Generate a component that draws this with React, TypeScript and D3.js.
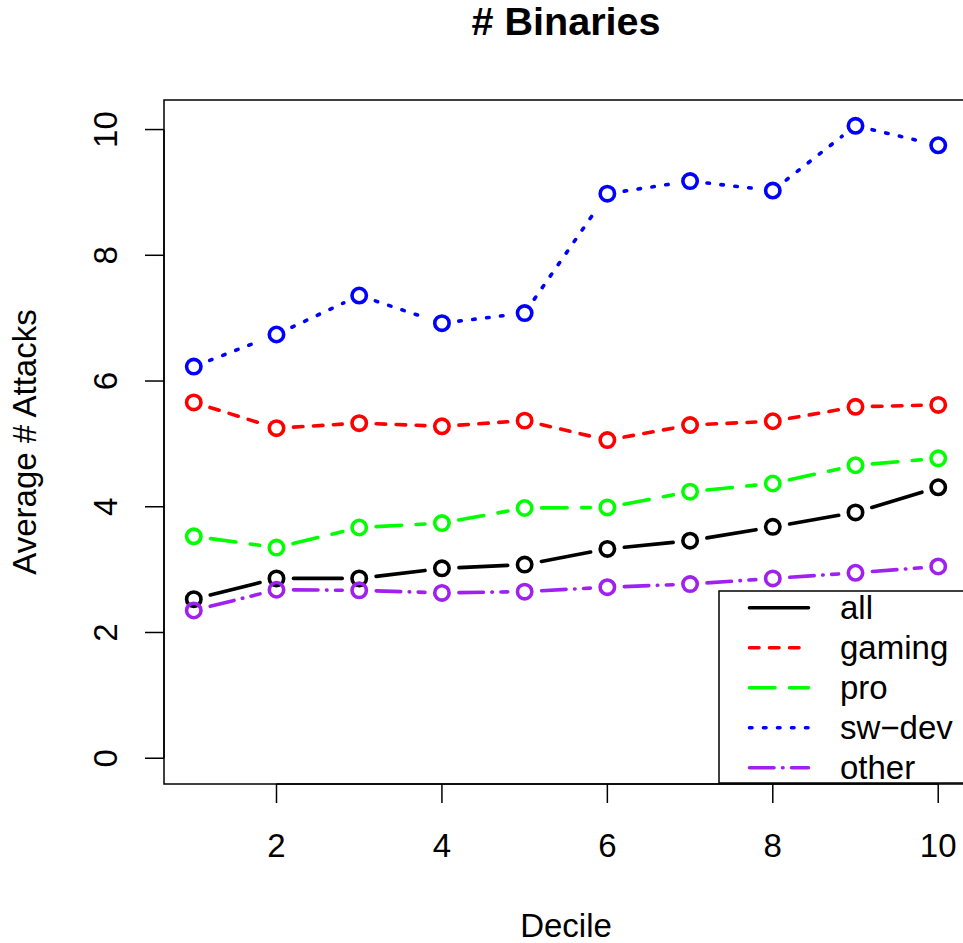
import React from "react";
import * as d3 from "d3";

const deciles = [1, 2, 3, 4, 5, 6, 7, 8, 9, 10];
const allVals = [2.53, 2.86, 2.86, 3.02, 3.08, 3.33, 3.46, 3.68, 3.91, 4.31];
const gamingVals = [5.66, 5.25, 5.33, 5.28, 5.37, 5.06, 5.30, 5.36, 5.59, 5.62];
const proVals = [3.53, 3.35, 3.67, 3.74, 3.98, 3.99, 4.24, 4.37, 4.66, 4.77];
const swdevVals = [6.23, 6.74, 7.36, 6.92, 7.08, 8.98, 9.18, 9.03, 10.06, 9.75];
const otherVals = [2.35, 2.68, 2.67, 2.63, 2.65, 2.72, 2.77, 2.86, 2.95, 3.05];
const seriesNames = ["all", "gaming", "pro", "sw\u2212dev", "other"];
const xTicks = [2, 4, 6, 8, 10];
const yTicks = [0, 2, 4, 6, 8, 10];

const colors = ["#000000", "#FF0000", "#00FF00", "#0000FF", "#A020F0"];
const dashes = ["none", "9.5 10.5", "25.5 14.5", "2.5 11.5", "24.5 8.5 0.5 8.5"];

const W = 963;
const H = 943;
const FONT = "'Liberation Sans', Arial, Helvetica, sans-serif";
const FS = 33;

export default function App() {
  const x = d3.scaleLinear().domain([0.64, 10.36]).range([164, 968]);
  const y = d3.scaleLinear().domain([-0.41, 10.47]).range([784, 100]);
  const series = [allVals, gamingVals, proVals, swdevVals, otherVals];
  const gap = 17;
  const lw = 3.6;
  const tick = 19;

  const segs: JSX.Element[] = [];
  series.forEach((vals, si) => {
    for (let i = 0; i < vals.length - 1; i++) {
      const x0 = x(deciles[i]);
      const y0 = y(vals[i]);
      const x1 = x(deciles[i + 1]);
      const y1 = y(vals[i + 1]);
      const dx = x1 - x0;
      const dy = y1 - y0;
      const len = Math.hypot(dx, dy);
      if (len <= 2 * gap) continue;
      const ux = dx / len;
      const uy = dy / len;
      segs.push(
        <line
          key={`s${si}-${i}`}
          x1={x0 + ux * gap}
          y1={y0 + uy * gap}
          x2={x1 - ux * gap}
          y2={y1 - uy * gap}
          stroke={colors[si]}
          strokeWidth={lw}
          strokeLinecap="round"
          strokeDasharray={dashes[si]}
        />
      );
    }
  });

  const legendRowY = (i: number) => 607.7 + i * 40;

  return (
    <div style={{ position: "absolute", left: 0, top: 0 }}>
      <svg width={W} height={H} style={{ display: "block", background: "#fff" }} fontFamily={FONT}>
        <rect x={0} y={0} width={W} height={H} fill="#fff" />
        <text x={566} y={35} textAnchor="middle" fontSize={FS * 1.2} fontWeight="bold">
          # Binaries
        </text>
        {/* plot box */}
        <rect x={164} y={100} width={968 - 164} height={684} fill="none" stroke="#000" strokeWidth={1.5} />
        {/* y axis */}
        <line x1={164} x2={164} y1={y(0)} y2={y(10)} stroke="#000" strokeWidth={1.5} />
        {yTicks.map((t) => (
          <g key={`yt${t}`}>
            <line x1={164 - tick} x2={164} y1={y(t)} y2={y(t)} stroke="#000" strokeWidth={1.5} />
            <text
              transform={`translate(116.5,${y(t)}) rotate(-90)`}
              textAnchor="middle"
              fontSize={FS}
            >
              {t}
            </text>
          </g>
        ))}
        {/* x axis */}
        <line x1={x(2)} x2={x(10)} y1={784} y2={784} stroke="#000" strokeWidth={1.5} />
        {xTicks.map((t) => (
          <g key={`xt${t}`}>
            <line x1={x(t)} x2={x(t)} y1={784} y2={784 + tick} stroke="#000" strokeWidth={1.5} />
            <text x={x(t)} y={857} textAnchor="middle" fontSize={FS}>
              {t}
            </text>
          </g>
        ))}
        <text x={566} y={937} textAnchor="middle" fontSize={FS}>
          Decile
        </text>
        <text transform={`translate(36,442) rotate(-90)`} textAnchor="middle" fontSize={FS}>
          Average # Attacks
        </text>
        {/* series */}
        {segs}
        {series.map((vals, si) =>
          vals.map((v, i) => (
            <circle
              key={`c${si}-${i}`}
              cx={x(deciles[i])}
              cy={y(v)}
              r={7.2}
              fill="none"
              stroke={colors[si]}
              strokeWidth={lw}
            />
          ))
        )}
        {/* legend */}
        <rect x={719} y={591} width={300} height={192} fill="#fff" stroke="#000" strokeWidth={1.5} />
        {seriesNames.map((name, i) => (
          <g key={`lg${i}`}>
            <line
              x1={749.5}
              x2={808.5}
              y1={legendRowY(i)}
              y2={legendRowY(i)}
              stroke={colors[i]}
              strokeWidth={lw}
              strokeLinecap="round"
              strokeDasharray={dashes[i]}
            />
            <text x={840} y={legendRowY(i) + 11} fontSize={FS}>
              {name}
            </text>
          </g>
        ))}
      </svg>
    </div>
  );
}
